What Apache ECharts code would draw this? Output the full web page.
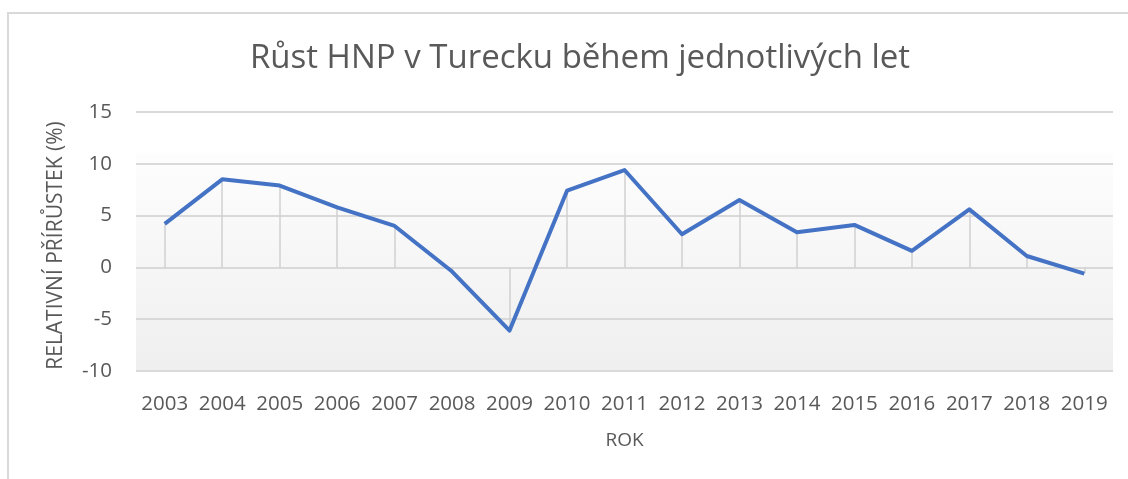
<!DOCTYPE html>
<html>
<head>
<meta charset="utf-8">
<script src="https://cdn.jsdelivr.net/npm/echarts@6/dist/echarts.min.js"></script>
<style>
  html, body { margin: 0; padding: 0; background: #fff; }
  #chart { width: 1128px; height: 479px; }
</style>
</head>
<body>
<div id="chart"></div>
<script>
// data
const years = ['2003', '2004', '2005', '2006', '2007', '2008', '2009', '2010', '2011',
  '2012', '2013', '2014', '2015', '2016', '2017', '2018', '2019'];
const growth = [4.2, 8.5, 7.9, 5.8, 4.0, -0.4, -6.1, 7.4, 9.4,
  3.2, 6.5, 3.4, 4.1, 1.6, 5.6, 1.1, -0.6];
const yTicks = [-10, -5, 0, 5, 10, 15];

const font = 'Open Sans, Noto Sans, sans-serif';
const chart = echarts.init(document.getElementById('chart'));

// drop lines from every point to zero
const dropLines = years.map((y, i) => [
  { coord: [y, growth[i]] },
  { coord: [y, 0] }
]);

chart.setOption({
  animation: false,
  title: {
    text: 'Růst HNP v Turecku během jednotlivých let',
    top: 37,
    left: 575,
    textAlign: 'center',
    textStyle: { fontFamily: font, fontSize: 33, fontWeight: 'normal', color: '#595959' }
  },
  graphic: [{
    type: 'rect',
    shape: { x: 8, y: 13, width: 1300, height: 600 },
    style: { fill: 'none', stroke: '#d9d9d9', lineWidth: 2 },
    z: -10
  }],
  grid: {
    left: 136, right: 15, top: 112, bottom: 108,
    show: true,
    borderWidth: 0,
    backgroundColor: {
      type: 'linear', x: 0, y: 0, x2: 0, y2: 1,
      colorStops: [
        { offset: 0, color: '#ffffff' },
        { offset: 0.15, color: '#ffffff' },
        { offset: 0.17, color: '#fdfdfd' },
        { offset: 1, color: '#efefef' }
      ]
    }
  },
  xAxis: {
    type: 'category',
    data: years,
    name: 'ROK',
    nameLocation: 'middle',
    nameGap: 60,
    nameTextStyle: { fontFamily: font, fontSize: 19, color: '#595959' },
    axisLine: { show: false },
    axisTick: { show: false },
    axisLabel: { interval: 0, fontFamily: font, fontSize: 20.5, color: '#595959', margin: 23 }
  },
  yAxis: {
    type: 'value',
    min: yTicks[0],
    max: yTicks[yTicks.length - 1],
    interval: 5,
    name: 'RELATIVNÍ PŘÍRŮSTEK (%)',
    nameLocation: 'middle',
    nameGap: 69,
    nameTextStyle: { fontFamily: font, fontSize: 21, color: '#595959', padding: [0, 8, 0, 0] },
    axisLine: { show: false },
    axisTick: { show: false },
    axisLabel: { fontFamily: font, fontSize: 20.5, color: '#595959', margin: 24 },
    splitLine: { lineStyle: { color: '#d9d9d9', width: 2 } }
  },
  series: [{
    type: 'line',
    data: growth,
    symbol: 'none',
    lineStyle: { color: '#4472C4', width: 4, join: 'round' },
    markLine: {
      silent: true,
      symbol: 'none',
      label: { show: false },
      lineStyle: { color: '#d0d0d0', width: 1.5, type: 'solid' },
      z: 1,
      data: dropLines
    }
  }]
});
</script>
</body>
</html>
